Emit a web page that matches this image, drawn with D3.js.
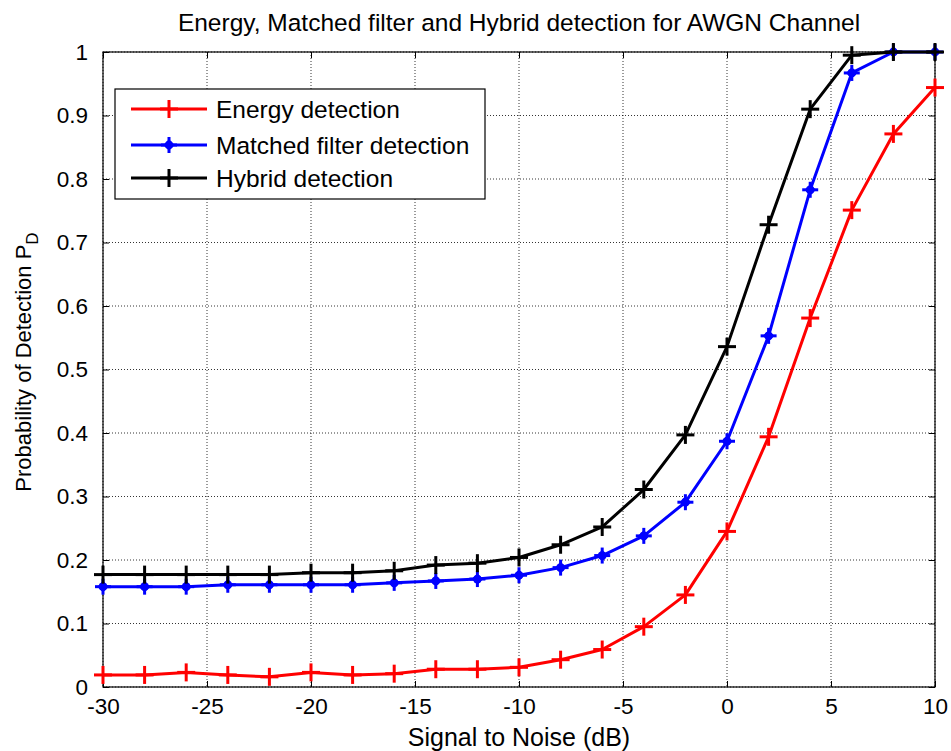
<!DOCTYPE html>
<html><head><meta charset="utf-8">
<script src="https://cdn.jsdelivr.net/npm/d3@7"></script>
<style>body{margin:0;background:#fff;} text{font-family:"Liberation Sans",Arial,sans-serif;}</style>
</head><body>
<svg id="c" width="951" height="751"></svg>
<script>
const snr = [-30,-28,-26,-24,-22,-20,-18,-16,-14,-12,-10,-8,-6,-4,-2,0,2,4,6,8,10];
const energy = [0.019,0.019,0.023,0.019,0.016,0.023,0.019,0.021,0.028,0.028,0.031,0.043,0.059,0.095,0.145,0.245,0.394,0.581,0.751,0.871,0.944];
const matched = [0.158,0.158,0.158,0.161,0.161,0.161,0.161,0.164,0.167,0.170,0.176,0.188,0.207,0.238,0.291,0.387,0.553,0.783,0.967,1.0,1.0];
const hybrid = [0.177,0.177,0.177,0.177,0.177,0.180,0.180,0.183,0.192,0.195,0.204,0.224,0.252,0.311,0.397,0.536,0.728,0.910,0.995,1.0,1.0];
const xTicks = [-30,-25,-20,-15,-10,-5,0,5,10];
const yTicks = [0,0.1,0.2,0.3,0.4,0.5,0.6,0.7,0.8,0.9,1];
const seriesNames = ["Energy detection","Matched filter detection","Hybrid detection"];
const seriesColors = ["#ff0000","#0000ff","#000000"];
const seriesData = [energy, matched, hybrid];

const svg = d3.select("#c");
const L=103, R=935, T=52, B=687;
const x = d3.scaleLinear().domain([-30,10]).range([L,R]);
const y = d3.scaleLinear().domain([0,1]).range([B,T]);

// grid
const g = svg.append("g");
g.selectAll(".vg").data(xTicks).enter().append("line")
 .attr("x1",d=>x(d)).attr("x2",d=>x(d)).attr("y1",T).attr("y2",B)
 .attr("stroke","#000").attr("stroke-width",0.8).attr("stroke-dasharray","1,2");
g.selectAll(".hg").data(yTicks).enter().append("line")
 .attr("y1",d=>y(d)).attr("y2",d=>y(d)).attr("x1",L).attr("x2",R)
 .attr("stroke","#000").attr("stroke-width",0.8).attr("stroke-dasharray","1,2");

// axes
const xa = svg.append("g").attr("transform",`translate(0,${B})`)
 .call(d3.axisBottom(x).tickValues(xTicks).tickSize(-6).tickPadding(11).tickFormat(d=>String(d)));
const xt = svg.append("g").attr("transform",`translate(0,${T})`)
 .call(d3.axisTop(x).tickValues(xTicks).tickSize(-6).tickFormat(""));
const ya = svg.append("g").attr("transform",`translate(${L},0)`)
 .call(d3.axisLeft(y).tickValues(yTicks).tickSize(-6).tickPadding(15).tickFormat(d=>d===0?"0":d===1?"1":d3.format(".1f")(d)));
const yr = svg.append("g").attr("transform",`translate(${R},0)`)
 .call(d3.axisRight(y).tickValues(yTicks).tickSize(-6).tickFormat(""));
[xa,xt,ya,yr].forEach(a=>{
  a.select(".domain").remove();
  a.selectAll("line").attr("stroke","#000");
  a.selectAll("text").attr("font-size",22.5).attr("fill","#000").style("font-family","'Liberation Sans',Arial,sans-serif");
});
svg.append("rect").attr("x",L).attr("y",T).attr("width",R-L).attr("height",B-T)
 .attr("fill","none").attr("stroke","#000").attr("stroke-width",1.2);

// lines
const line = d3.line().x((d,i)=>x(snr[i])).y(d=>y(d));
function plus(sel, cx, cy, color, s){
  sel.append("line").attr("x1",cx-s).attr("x2",cx+s).attr("y1",cy).attr("y2",cy).attr("stroke",color).attr("stroke-width",3);
  sel.append("line").attr("x1",cx).attr("x2",cx).attr("y1",cy-s).attr("y2",cy+s).attr("stroke",color).attr("stroke-width",3);
}
function star(sel, cx, cy, color, s){
  plus(sel,cx,cy,color,s);
  sel.append("path").attr("d",`M${cx-s*0.7},${cy}L${cx},${cy-s*0.7}L${cx+s*0.7},${cy}L${cx},${cy+s*0.7}Z`).attr("fill",color);
  sel.append("circle").attr("cx",cx).attr("cy",cy).attr("r",s*0.55).attr("fill",color);
}
seriesData.forEach((data,k)=>{
  const col = seriesColors[k];
  svg.append("path").datum(data).attr("d",line).attr("fill","none").attr("stroke",col).attr("stroke-width",3).attr("stroke-linejoin","round");
  const mg = svg.append("g");
  data.forEach((v,i)=>{
    if(k===1) star(mg, x(snr[i]), y(v), col, 8);
    else plus(mg, x(snr[i]), y(v), col, 9);
  });
});

// legend
const lg = svg.append("g");
lg.append("rect").attr("x",115).attr("y",89).attr("width",370).attr("height",110).attr("fill","#fff").attr("stroke","#000").attr("stroke-width",1.2);
const rows=[109,145,178];
seriesNames.forEach((n,k)=>{
  const col=seriesColors[k];
  lg.append("line").attr("x1",131).attr("x2",207).attr("y1",rows[k]).attr("y2",rows[k]).attr("stroke",col).attr("stroke-width",3);
  if(k===1) star(lg,169,rows[k],col,8); else plus(lg,169,rows[k],col,9);
  lg.append("text").attr("x",216).attr("y",rows[k]+8.5).attr("font-size",24.5).text(n);
});

// titles
svg.append("text").attr("x",519).attr("y",31).attr("text-anchor","middle").attr("font-size",24.5).text("Energy, Matched filter and Hybrid detection for AWGN Channel");
svg.append("text").attr("x",519).attr("y",746).attr("text-anchor","middle").attr("font-size",25).text("Signal to Noise (dB)");
const yl = svg.append("text").attr("transform","translate(31,362) rotate(-90)").attr("text-anchor","middle").attr("font-size",22);
yl.append("tspan").text("Probability of Detection P");
yl.append("tspan").attr("font-size",17).attr("dy",7).text("D");
</script>
</body></html>
